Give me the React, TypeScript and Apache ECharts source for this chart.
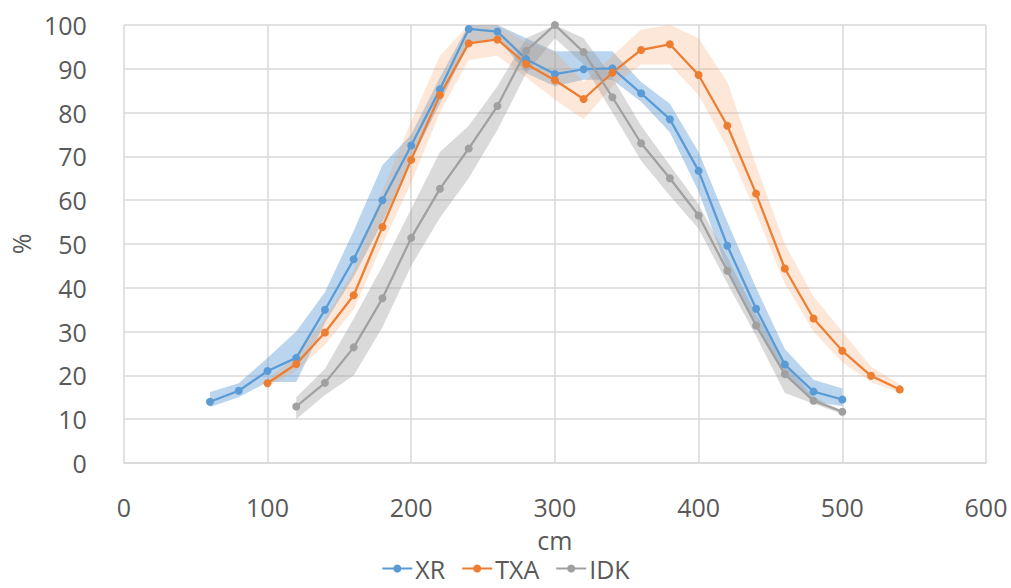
import React, { useEffect, useRef } from "react";
import * as echarts from "echarts";

const xrX = [60, 80, 100, 120, 140, 160, 180, 200, 220, 240, 260, 280, 300, 320, 340, 360, 380, 400, 420, 440, 460, 480, 500];
const xrMean = [14, 16.5, 21, 24, 35, 46.5, 60, 72.5, 85.3, 99.1, 98.5, 92.2, 88.8, 89.9, 90.1, 84.4, 78.5, 66.7, 49.6, 35.2, 22.5, 16.3, 14.5];
const xrLow = [12.8, 15, 18.5, 18.5, 32, 42.5, 55, 69, 82, 96, 97, 89, 86, 87.5, 87.5, 82.5, 75.5, 62, 44, 31, 20, 14, 13];
const xrHigh = [16.2, 18.2, 24, 30, 39, 53, 68, 75, 88, 100, 100, 97, 94, 94, 94, 87, 82, 71, 55, 40, 26, 19, 17];

const txaX = [100, 120, 140, 160, 180, 200, 220, 240, 260, 280, 300, 320, 340, 360, 380, 400, 420, 440, 460, 480, 500, 520, 540];
const txaMean = [18.2, 22.6, 29.8, 38.3, 53.9, 69.2, 84, 95.8, 96.7, 91.1, 87.4, 83.1, 89.1, 94.3, 95.6, 88.6, 77, 61.5, 44.4, 33, 25.6, 19.9, 16.8];
const txaLow = [17.5, 21, 27, 35, 50, 64, 80, 92, 93, 88, 83, 78.5, 86, 91, 91, 84, 72, 57, 41, 30, 23, 18.5, 16];
const txaHigh = [19, 24.5, 33, 44, 62, 78, 93, 100, 100, 96, 94, 87, 93, 99, 100, 97, 87, 68, 50, 38, 30, 22, 18];

const idkX = [120, 140, 160, 180, 200, 220, 240, 260, 280, 300, 320, 340, 360, 380, 400, 420, 440, 460, 480, 500];
const idkMean = [12.9, 18.3, 26.4, 37.6, 51.4, 62.6, 71.8, 81.5, 94.1, 100, 93.8, 83.5, 73, 65, 56.5, 43.9, 31.4, 20.3, 14.2, 11.7];
const idkLow = [10, 15.5, 20, 31, 45, 56, 65, 76, 89, 97, 91, 80, 69, 61, 53.5, 41, 29, 16, 13.5, 11.2];
const idkHigh = [15, 21.5, 33, 45, 58, 71, 77, 86, 97, 100, 97, 88, 77, 68, 59, 47, 34, 23, 15, 12];

const xTicks = { min: 0, max: 600, interval: 100 };
const yTicks = { min: 0, max: 100, interval: 10 };

const FONT = "'Open Sans', 'Noto Sans', sans-serif";
const LABEL_COLOR = "#595959";

function pairs(xs: number[], ys: number[]) {
  return xs.map((x, i) => [x, ys[i]]);
}

function bandSeries(name: string, xs: number[], low: number[], high: number[], color: string, z: number) {
  return {
    name: name + "-band",
    type: "custom",
    data: xs.map((x, i) => [x, low[i], high[i]]),
    encode: { x: 0, y: [1, 2] },
    silent: true,
    clip: true,
    z,
    renderItem: (params: any, api: any) => {
      if (params.dataIndex !== 0) return null;
      const pts: number[][] = [];
      for (let i = 0; i < xs.length; i++) pts.push(api.coord([xs[i], high[i]]));
      for (let i = xs.length - 1; i >= 0; i--) pts.push(api.coord([xs[i], low[i]]));
      return {
        type: "polygon",
        shape: { points: pts },
        style: { fill: color },
        silent: true,
      };
    },
  };
}

function mainSeries(name: string, xs: number[], ys: number[], color: string) {
  return {
    name,
    type: "line",
    data: pairs(xs, ys),
    symbol: "circle",
    symbolSize: 8,
    itemStyle: { color },
    lineStyle: { color, width: 2.25 },
    z: 5,
  };
}

export default function App() {
  const ref = useRef<HTMLDivElement>(null);
  useEffect(() => {
    if (!ref.current) return;
    const chart = echarts.init(ref.current, undefined, { renderer: "svg" });
    chart.setOption({
      animation: false,
      backgroundColor: "#ffffff",
      grid: { left: 120, right: 25, top: 25, bottom: 125 },
      legend: {
        data: ["XR", "TXA", "IDK"],
        bottom: 2,
        left: "center",
        itemWidth: 30,
        itemHeight: 10,
        itemGap: 16,
        textStyle: { fontFamily: FONT, fontSize: 25, color: LABEL_COLOR, padding: [0, 0, 0, -2] },
      },
      xAxis: {
        type: "value",
        min: xTicks.min,
        max: xTicks.max,
        interval: xTicks.interval,
        name: "cm",
        nameLocation: "middle",
        nameGap: 65,
        nameTextStyle: { fontFamily: FONT, fontSize: 25, color: LABEL_COLOR, lineHeight: 24 },
        axisLine: { show: true, lineStyle: { color: "#d9d9d9", width: 1.5 } },
        axisTick: { show: false },
        axisLabel: { fontFamily: FONT, fontSize: 25, color: LABEL_COLOR, margin: 32, lineHeight: 24 },
        splitLine: { show: true, lineStyle: { color: "#d9d9d9", width: 1.5 } },
      },
      yAxis: {
        type: "value",
        min: yTicks.min,
        max: yTicks.max,
        interval: yTicks.interval,
        name: "%",
        nameLocation: "middle",
        nameRotate: 90,
        nameGap: 90,
        nameTextStyle: { fontFamily: FONT, fontSize: 25, color: LABEL_COLOR },
        axisLine: { show: false },
        axisTick: { show: false },
        axisLabel: { fontFamily: FONT, fontSize: 25, color: LABEL_COLOR, margin: 37 },
        splitLine: { show: true, lineStyle: { color: "#d9d9d9", width: 1.5 } },
      },
      series: [
        bandSeries("XR", xrX, xrLow, xrHigh, "rgba(91,155,213,0.42)", 1),
        bandSeries("TXA", txaX, txaLow, txaHigh, "rgba(244,160,100,0.25)", 2),
        bandSeries("IDK", idkX, idkLow, idkHigh, "rgba(150,150,150,0.35)", 3),
        mainSeries("XR", xrX, xrMean, "#5b9bd5"),
        mainSeries("TXA", txaX, txaMean, "#ed7d31"),
        mainSeries("IDK", idkX, idkMean, "#a0a0a0"),
      ],
    });
    return () => chart.dispose();
  }, []);
  return (
    <div
      ref={ref}
      style={{ position: "absolute", left: 0, top: 0, width: 1011, height: 588 }}
    />
  );
}
